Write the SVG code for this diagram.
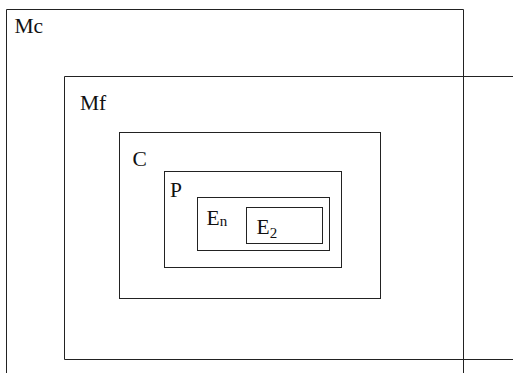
<svg xmlns="http://www.w3.org/2000/svg" width="513" height="373" viewBox="0 0 513 373">
<style>
.b{fill:none;stroke:#222;stroke-width:1}
.t{font-family:"Liberation Serif","Times New Roman",serif;font-size:21.5px;fill:#111}
.s{font-size:15px}
</style>
<rect width="513" height="373" fill="#fff"/>
<g id="Mc">
<path class="b" d="M6.5,373 V9.5 H463.5 V373"/>
<text class="t" x="14.5" y="33">Mc</text>
</g>
<g id="Mf">
<path class="b" d="M513,76.5 H64.5 V359.5 H513"/>
<text class="t" x="80" y="110">Mf</text>
</g>
<g id="C">
<rect class="b" x="119.5" y="132.5" width="261" height="166"/>
<text class="t" x="132.5" y="166">C</text>
</g>
<g id="P">
<rect class="b" x="164.5" y="171.5" width="177" height="96"/>
<text class="t" x="170" y="197">P</text>
</g>
<g id="En">
<rect class="b" x="197.5" y="197.5" width="132" height="53"/>
<text class="t" x="206.5" y="224.5">E<tspan class="s" dy="1.5">n</tspan></text>
</g>
<g id="E2">
<rect class="b" x="246.5" y="207.5" width="76" height="36"/>
<text class="t" x="256.5" y="234">E<tspan class="s" dy="4">2</tspan></text>
</g>
<g id="connectors"></g>
</svg>
